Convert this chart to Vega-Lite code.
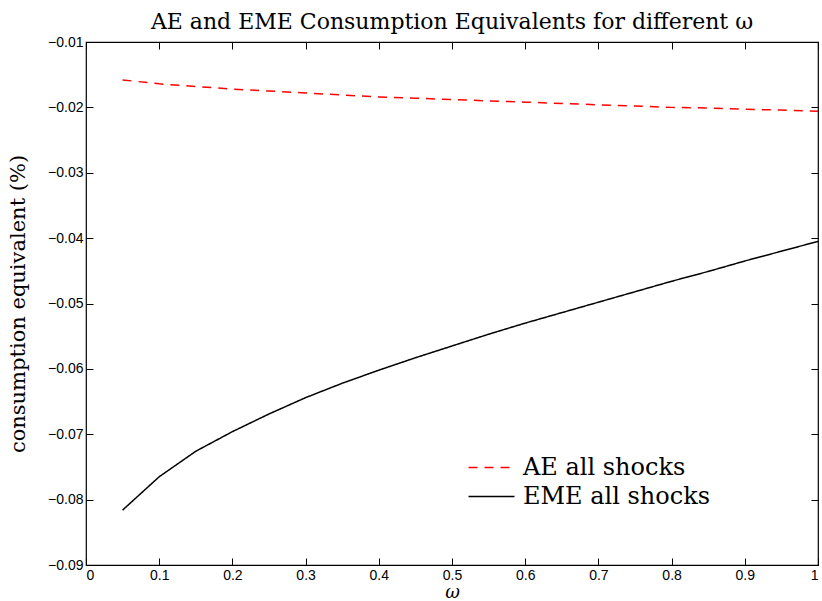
{
  "$schema": "https://vega.github.io/schema/vega-lite/v6.json",
  "autosize": "none",
  "width": 732,
  "height": 523,
  "padding": {"left": 86, "top": 42, "right": 4, "bottom": 36},
  "background": "white",
  "config": {
    "view": {"stroke": "black", "strokeWidth": 1.2},
    "axis": {
      "domain": false,
      "grid": false,
      "tickColor": "black",
      "tickSize": -7,
      "labelFont": "Liberation Sans",
      "labelFontSize": 14,
      "labelColor": "black",
      "titleFont": "DejaVu Serif",
      "titleFontWeight": "normal",
      "titleColor": "black"
    }
  },
  "title": {
    "text": "AE and EME Consumption Equivalents for different ω",
    "font": "DejaVu Serif",
    "fontSize": 22,
    "fontWeight": "normal",
    "color": "black",
    "baseline": "alphabetic",
    "offset": -16
  },
  "data": {
    "values": [
      {"w": 0.05, "v": -0.0158, "series": "AE all shocks"},
      {"w": 0.10, "v": -0.0164, "series": "AE all shocks"},
      {"w": 0.15, "v": -0.0168, "series": "AE all shocks"},
      {"w": 0.20, "v": -0.0172, "series": "AE all shocks"},
      {"w": 0.25, "v": -0.0175, "series": "AE all shocks"},
      {"w": 0.30, "v": -0.0178, "series": "AE all shocks"},
      {"w": 0.35, "v": -0.0181, "series": "AE all shocks"},
      {"w": 0.40, "v": -0.0184, "series": "AE all shocks"},
      {"w": 0.45, "v": -0.0186, "series": "AE all shocks"},
      {"w": 0.50, "v": -0.0188, "series": "AE all shocks"},
      {"w": 0.55, "v": -0.0190, "series": "AE all shocks"},
      {"w": 0.60, "v": -0.0192, "series": "AE all shocks"},
      {"w": 0.65, "v": -0.0194, "series": "AE all shocks"},
      {"w": 0.70, "v": -0.0196, "series": "AE all shocks"},
      {"w": 0.75, "v": -0.0198, "series": "AE all shocks"},
      {"w": 0.80, "v": -0.0200, "series": "AE all shocks"},
      {"w": 0.85, "v": -0.0201, "series": "AE all shocks"},
      {"w": 0.90, "v": -0.0203, "series": "AE all shocks"},
      {"w": 0.95, "v": -0.0204, "series": "AE all shocks"},
      {"w": 1.00, "v": -0.0206, "series": "AE all shocks"},
      {"w": 0.05, "v": -0.0816, "series": "EME all shocks"},
      {"w": 0.10, "v": -0.0765, "series": "EME all shocks"},
      {"w": 0.15, "v": -0.0726, "series": "EME all shocks"},
      {"w": 0.20, "v": -0.0696, "series": "EME all shocks"},
      {"w": 0.25, "v": -0.0669, "series": "EME all shocks"},
      {"w": 0.30, "v": -0.0644, "series": "EME all shocks"},
      {"w": 0.35, "v": -0.0622, "series": "EME all shocks"},
      {"w": 0.40, "v": -0.0602, "series": "EME all shocks"},
      {"w": 0.45, "v": -0.0583, "series": "EME all shocks"},
      {"w": 0.50, "v": -0.0565, "series": "EME all shocks"},
      {"w": 0.55, "v": -0.0547, "series": "EME all shocks"},
      {"w": 0.60, "v": -0.0530, "series": "EME all shocks"},
      {"w": 0.65, "v": -0.0514, "series": "EME all shocks"},
      {"w": 0.70, "v": -0.0498, "series": "EME all shocks"},
      {"w": 0.75, "v": -0.0482, "series": "EME all shocks"},
      {"w": 0.80, "v": -0.0466, "series": "EME all shocks"},
      {"w": 0.85, "v": -0.0451, "series": "EME all shocks"},
      {"w": 0.90, "v": -0.0435, "series": "EME all shocks"},
      {"w": 0.95, "v": -0.0420, "series": "EME all shocks"},
      {"w": 1.00, "v": -0.0405, "series": "EME all shocks"}
    ]
  },
  "layer": [
    {
      "mark": {"type": "line", "strokeWidth": 1.5},
      "encoding": {
        "x": {
          "field": "w", "type": "quantitative",
          "scale": {"domain": [0, 1], "nice": false},
          "axis": {"values": [0, 0.1, 0.2, 0.3, 0.4, 0.5, 0.6, 0.7, 0.8, 0.9, 1], "format": "~g", "labelPadding": 10, "title": "ω", "titleFontStyle": "italic", "titleFontSize": 18, "titlePadding": 1}
        },
        "y": {
          "field": "v", "type": "quantitative",
          "scale": {"domain": [-0.09, -0.01], "nice": false},
          "axis": {"values": [-0.09, -0.08, -0.07, -0.06, -0.05, -0.04, -0.03, -0.02, -0.01], "format": ".2f", "labelPadding": 10, "title": "consumption equivalent (%)", "titleFontSize": 21, "titlePadding": 19}
        },
        "color": {
          "field": "series", "type": "nominal",
          "scale": {"domain": ["AE all shocks", "EME all shocks"], "range": ["#ff0000", "#000000"]},
          "legend": {
            "title": null,
            "orient": "none",
            "legendX": 393,
            "legendY": 413,
            "symbolType": "M-2,0H2",
            "symbolSize": 529,
            "symbolStrokeWidth": 1.5,
            "labelFont": "DejaVu Serif",
            "labelFontSize": 24,
            "labelLimit": 400,
            "labelColor": "black",
            "labelOffset": 19,
            "rowPadding": 4
          }
        },
        "strokeDash": {
          "field": "series", "type": "nominal",
          "scale": {"domain": ["AE all shocks", "EME all shocks"], "range": [[9, 7], [1, 0]]},
          "legend": null
        }
      }
    },
    {
      "mark": {"type": "line", "opacity": 0},
      "encoding": {
        "x": {"field": "w", "type": "quantitative", "axis": {"orient": "top", "values": [0, 0.1, 0.2, 0.3, 0.4, 0.5, 0.6, 0.7, 0.8, 0.9, 1], "labels": false, "title": null}},
        "y": {"field": "v", "type": "quantitative", "axis": {"orient": "right", "values": [-0.09, -0.08, -0.07, -0.06, -0.05, -0.04, -0.03, -0.02, -0.01], "labels": false, "title": null}}
      }
    }
  ],
  "resolve": {"axis": {"x": "independent", "y": "independent"}}
}
